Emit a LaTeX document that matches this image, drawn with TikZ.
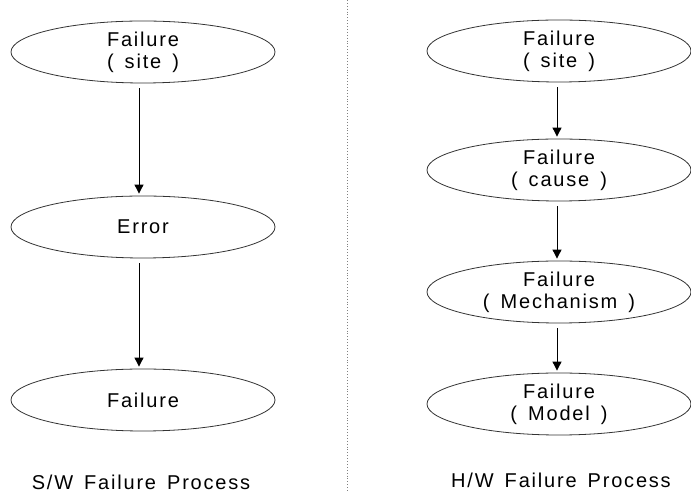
\documentclass[tikz,border=0pt]{standalone}
\usepackage{fontspec}
\setmainfont{Liberation Sans}[LetterSpace=9,WordSpace=1.5]
\usetikzlibrary{shapes,arrows.meta,positioning}

\begin{document}
\begin{tikzpicture}[x=1pt,y=1pt,->,>={Triangle[length=9pt,width=9pt]},shorten >=2pt,shorten <=5pt,line width=0.9pt,
    proc node/.style={ellipse,draw=black!80,line width=0.8pt,minimum width=264pt,minimum height=62pt,inner sep=0pt,align=center,font=\fontsize{20}{22}\selectfont},
    title node/.style={font=\fontsize{20}{22}\selectfont}]
    \useasboundingbox (0,0) rectangle (691,495);

    % S/W side
    \node[proc node] (fsite) at (143,443) {Failure\\( site )};
    \node[proc node] (error) [below of = fsite, node distance=175pt] {Error};
    \node[proc node] (failure) [below of = error, node distance=173pt] {Failure};
    \node[title node] (sw) at (141,13) {S/W Failure Process};

    % H/W side
    \node[proc node] (hsite) at (559,444) {Failure\\( site )};
    \node[proc node] (hcause) [below of = hsite, node distance=119pt] {Failure\\( cause )};
    \node[proc node] (hmech) [below of = hcause, node distance=122pt] {Failure\\( Mechanism )};
    \node[proc node] (hmodel) [below of = hmech, node distance=112pt] {Failure\\( Model )};
    \node[title node] (hw) at (561,15) {H/W Failure Process};

    \coordinate (top) at (347,495);
    \coordinate (bot) at (347,4);
    \draw[-,shorten >=0pt,shorten <=0pt,dotted,gray] (top) -- (bot);

    \draw ([xshift=-4pt]fsite.south) -- ([xshift=-4pt]error.north);
    \draw ([xshift=-4pt]error.south) -- ([xshift=-4pt]failure.north);
    \draw ([xshift=-2pt]hsite.south) -- ([xshift=-2pt]hcause.north);
    \draw ([xshift=-2pt]hcause.south) -- ([xshift=-2pt]hmech.north);
    \draw ([xshift=-2pt]hmech.south) -- ([xshift=-2pt]hmodel.north);
\end{tikzpicture}
\end{document}
